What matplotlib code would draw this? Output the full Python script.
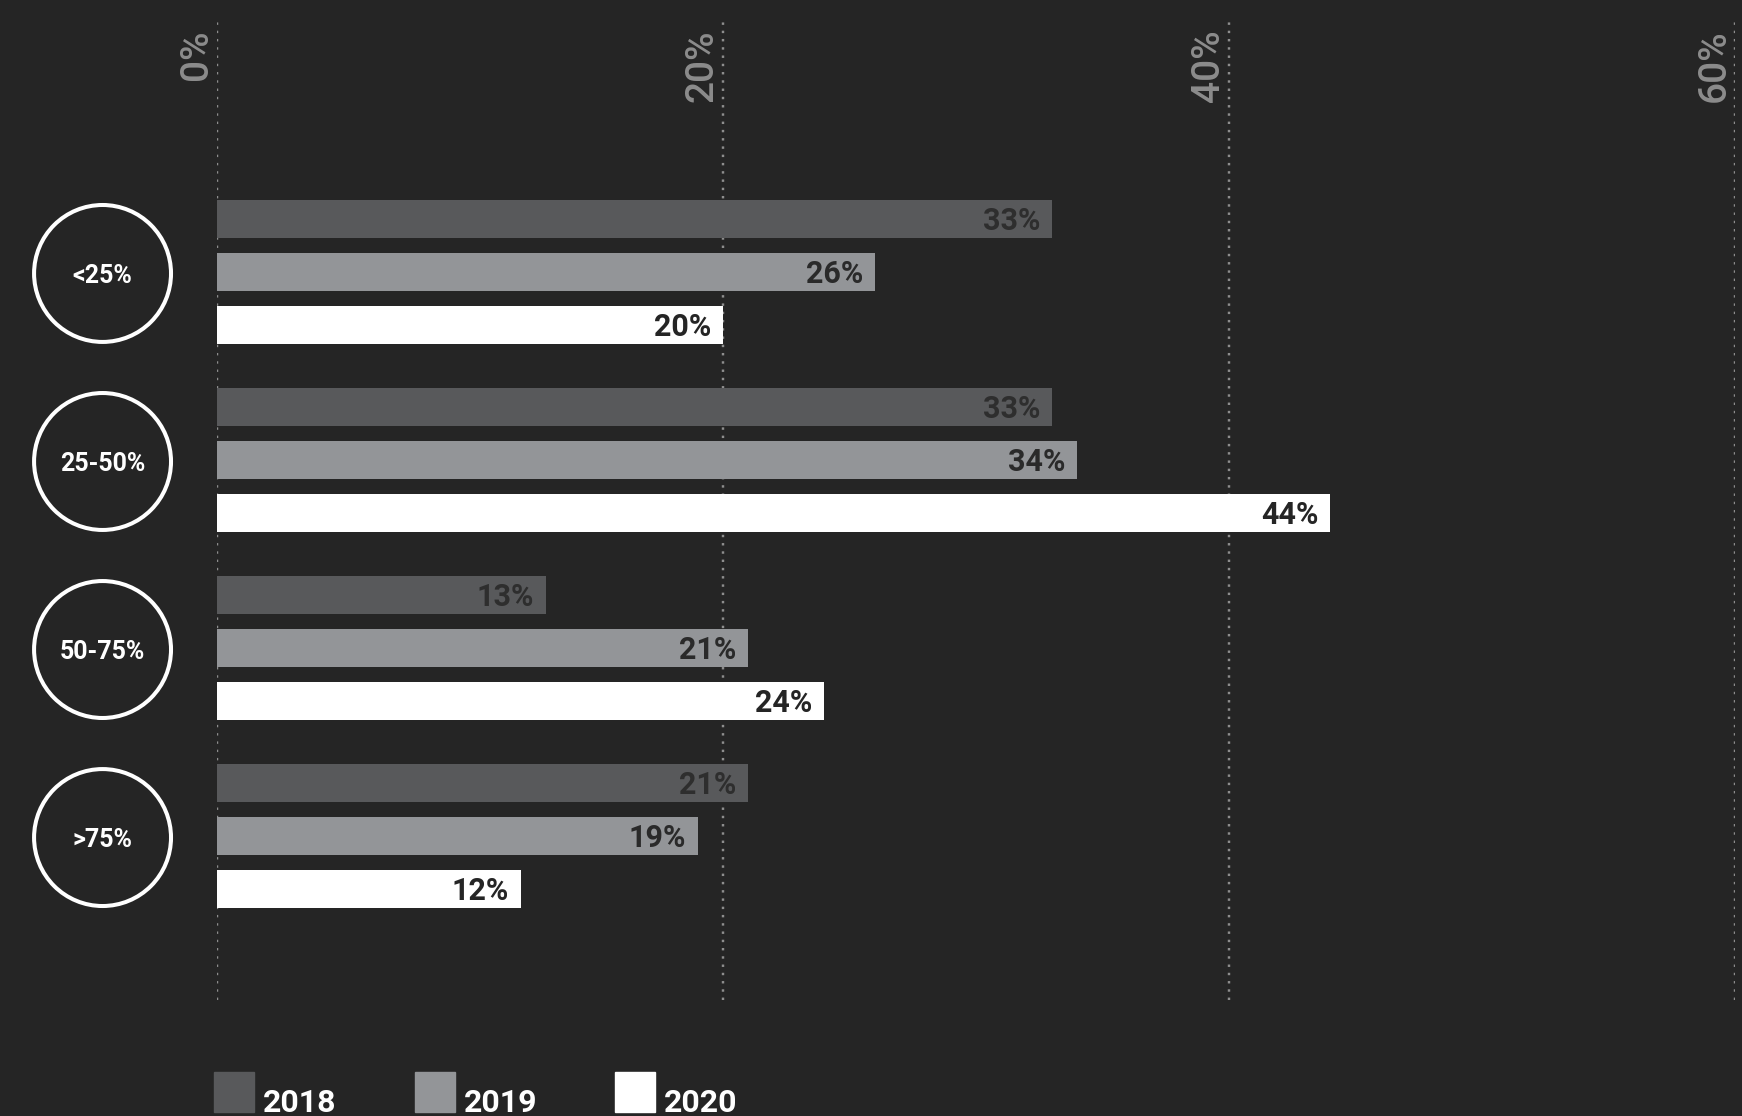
import matplotlib
matplotlib.use("Agg")
import matplotlib.pyplot as plt
from matplotlib.patches import Rectangle
import numpy as np

groups = ["<25%", "25-50%", "50-75%", ">75%"]
years = ["2018", "2019", "2020"]
v2018 = [33, 33, 13, 21]
v2019 = [26, 34, 21, 19]
v2020 = [20, 44, 24, 12]
ticks = [0, 20, 40, 60]
tick_labels = ["0%", "20%", "40%", "60%"]

bg = "#252525"
colors = ["#58595b", "#939598", "#ffffff"]
label_colors = ["#2e2e2e", "#2a2a2a", "#252525"]

plt.rcParams["font.family"] = ["Roboto", "DejaVu Sans"]

W, H = 1742, 1116
fig = plt.figure(figsize=(W / 100, H / 100), dpi=100, facecolor=bg)
ax = fig.add_axes([217 / W, 1 - 1000 / H, 1518 / W, 983 / H])
ax.set_facecolor(bg)

# bars: three years per group, middle bar on the group centre
step = 0.281
height = 0.201
for j, vals in enumerate([v2018, v2019, v2020]):
    y = np.arange(len(groups)) + (j - 1) * step
    ax.barh(y, vals, height=height, color=colors[j], zorder=2)
    for yi, v in zip(y, vals):
        ax.annotate(f"{v}%", (v, yi), xytext=(-8.5, -1.5), textcoords="offset points",
                    ha="right", va="center", fontsize=22, fontweight="bold",
                    color=label_colors[j], zorder=3)

ax.set_xlim(0, 60)
ax.set_ylim(3.872, -1.356)
ax.set_xticks(ticks)
ax.set_yticks([])
ax.grid(axis="x", color="#8e8e8e", linestyle=(0, (1, 2.4)), linewidth=1.75)
ax.set_axisbelow(True)
ax.tick_params(length=0, labelbottom=False, labeltop=False)
for s in ax.spines.values():
    s.set_visible(False)

# rotated percent labels next to the grid lines
for t, lab in zip(ticks, tick_labels):
    ax.annotate(lab, xy=(t, 1), xycoords=ax.get_xaxis_transform(),
                xytext=(-1.5, -8.8), textcoords="offset points",
                rotation=90, ha="right", va="top", fontsize=28,
                fontweight="medium", color="#8c8c8c", annotation_clip=False)

# circled group labels on the left
cx = -0.0754
ax.scatter(np.full(len(groups), cx), np.arange(len(groups)) + 0.008,
           transform=ax.get_yaxis_transform(), s=9722,
           facecolors="none", edgecolors="white", linewidths=2.9, clip_on=False)
for i, g in enumerate(groups):
    ax.annotate(g, (cx, i), xycoords=ax.get_yaxis_transform(),
                xytext=(0, -7.6), textcoords="offset points",
                ha="center", va="baseline", fontsize=18, fontweight="bold",
                color="white", annotation_clip=False)

# legend along the bottom edge
for i, yr in enumerate(years):
    fig.patches.append(Rectangle(((214 + 200.5 * i) / W, 4 / H), 40 / W, 40 / H,
                                 transform=fig.transFigure, color=colors[i]))
    fig.text((263 + 200.5 * i) / W, 4 / H, yr, ha="left", va="baseline",
             fontsize=23, fontweight="bold", color="white")

fig.savefig("out.png", dpi=100, facecolor=bg)
